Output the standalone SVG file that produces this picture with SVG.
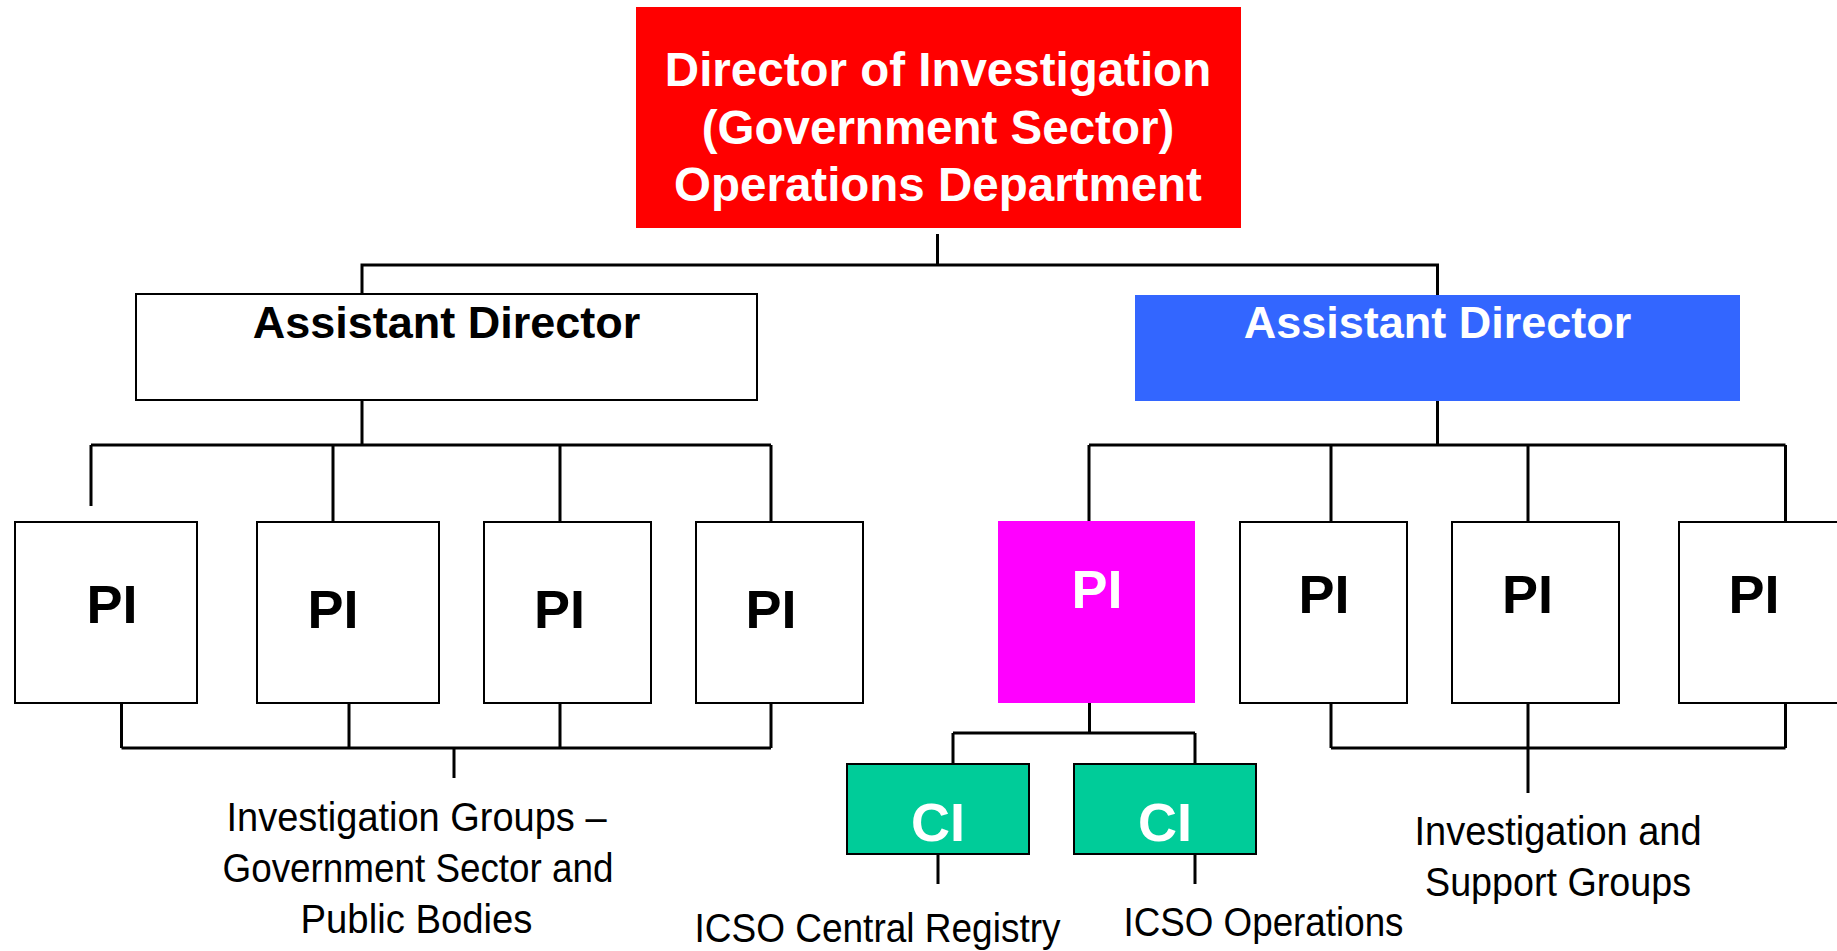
<svg xmlns="http://www.w3.org/2000/svg" width="1837" height="951" viewBox="0 0 1837 951">
<style>
.bx{fill:#fff;stroke:#000;stroke-width:2}
.ci{fill:#00CC99;stroke:#000;stroke-width:2}
.t{font-family:"Liberation Sans",Arial,sans-serif;font-weight:bold;text-anchor:middle}
.h{font-size:47.5px;fill:#fff}
.ad{font-size:45px}
.pi{font-size:54px}
.w{fill:#fff}
.k{fill:#000}
.lb{font-family:"Liberation Sans",Arial,sans-serif;font-size:40px;fill:#000;text-anchor:middle}
.c{fill:none;stroke:#000;stroke-width:3}
</style>
<rect width="1837" height="951" fill="#fff"/>
<g id="connectors" class="c">
<path d="M937.5,234V265M362,294V265H1437.5V295"/>
<path d="M362,400V445M91,445H771M91,445V506M333,445V522M560,445V522M771,445V522"/>
<path d="M121.5,703V748M349,703V748M560,703V748M771,703V748M121.5,748H771M454,748V778"/>
<path d="M1437.5,401V445M1089,445H1785.5M1089,445V521M1331,445V522M1528,445V522M1785.5,445V522"/>
<path d="M1089.5,703V733M953,733H1195M953,733V764M1195,733V764"/>
<path d="M938,854V884M1195,854V884"/>
<path d="M1331,703V748M1528,703V748M1785.5,703V748M1331,748H1785.5M1528,748V793"/>
</g>
<g id="director">
<rect x="636" y="7" width="605" height="221" fill="#FF0000"/>
<text class="t h" x="938" y="86">Director of Investigation</text>
<text class="t h" x="938" y="144">(Government Sector)</text>
<text class="t h" x="938" y="201">Operations Department</text>
</g>
<g id="ad-left">
<rect class="bx" x="136" y="294" width="621" height="106"/>
<text class="t ad k" x="446.5" y="338">Assistant Director</text>
</g>
<g id="ad-right">
<rect x="1135" y="295" width="605" height="106" fill="#3366FF"/>
<text class="t ad w" x="1437.5" y="338">Assistant Director</text>
</g>
<g id="pi-l1"><rect class="bx" x="15" y="522" width="182" height="181"/><text class="t pi k" x="112" y="623">PI</text></g>
<g id="pi-l2"><rect class="bx" x="257" y="522" width="182" height="181"/><text class="t pi k" x="333" y="628">PI</text></g>
<g id="pi-l3"><rect class="bx" x="484" y="522" width="167" height="181"/><text class="t pi k" x="559.5" y="628">PI</text></g>
<g id="pi-l4"><rect class="bx" x="696" y="522" width="167" height="181"/><text class="t pi k" x="771" y="628">PI</text></g>
<g id="pi-r1"><rect x="998" y="521" width="197" height="182" fill="#FF00FF"/><text class="t pi w" x="1097" y="608">PI</text></g>
<g id="pi-r2"><rect class="bx" x="1240" y="522" width="167" height="181"/><text class="t pi k" x="1324" y="613">PI</text></g>
<g id="pi-r3"><rect class="bx" x="1452" y="522" width="167" height="181"/><text class="t pi k" x="1527.5" y="613">PI</text></g>
<g id="pi-r4"><rect class="bx" x="1679" y="522" width="170" height="181"/><text class="t pi k" x="1754" y="613">PI</text></g>
<g id="ci-1"><rect class="ci" x="847" y="764" width="182" height="90"/><text class="t pi w" x="938" y="841">CI</text></g>
<g id="ci-2"><rect class="ci" x="1074" y="764" width="182" height="90"/><text class="t pi w" x="1165" y="841">CI</text></g>
<g id="label-left">
<text class="lb" x="416.5" y="831" textLength="380" lengthAdjust="spacingAndGlyphs">Investigation Groups –</text>
<text class="lb" x="418" y="882" textLength="391" lengthAdjust="spacingAndGlyphs">Government Sector and</text>
<text class="lb" x="416.5" y="933" textLength="232" lengthAdjust="spacingAndGlyphs">Public Bodies</text>
</g>
<g id="label-registry"><text class="lb" x="877.5" y="942" textLength="366" lengthAdjust="spacingAndGlyphs">ICSO Central Registry</text></g>
<g id="label-ops"><text class="lb" x="1263.5" y="936" textLength="280" lengthAdjust="spacingAndGlyphs">ICSO Operations</text></g>
<g id="label-right">
<text class="lb" x="1558" y="845" textLength="287" lengthAdjust="spacingAndGlyphs">Investigation and</text>
<text class="lb" x="1558" y="896" textLength="266" lengthAdjust="spacingAndGlyphs">Support Groups</text>
</g>
</svg>
